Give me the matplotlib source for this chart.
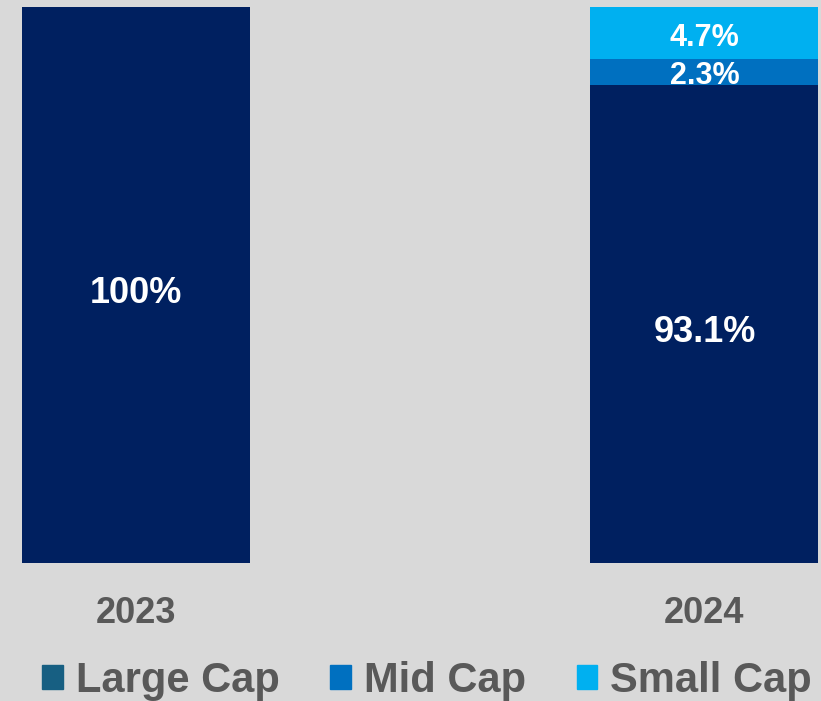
import matplotlib.pyplot as plt
from matplotlib.patches import Patch

plt.rcParams['font.family'] = ['Liberation Sans', 'DejaVu Sans']

years = ["2023", "2024"]
series = ["Large Cap", "Mid Cap", "Small Cap"]
# segment heights as drawn in the picture
large_cap = [100.0, 86.0]
mid_cap = [0.0, 4.7]
small_cap = [0.0, 9.3]
# labels as printed on the bars
large_labels = ["100%", "93.1%"]
mid_labels = ["", "2.3%"]
small_labels = ["", "4.7%"]

bar_colors = ["#002060", "#0070C0", "#00B0F0"]
legend_colors = ["#175F82", "#0070C0", "#00B0F0"]
bg = "#D9D9D9"
grey = "#595959"

fig = plt.figure(figsize=(8.21, 7.01), dpi=100, facecolor=bg)
ax = fig.add_axes([0, 0.1969, 1, 0.7932], facecolor=bg)

x = list(range(len(years)))
w = 0.401
bottom2 = large_cap
bottom3 = [a + b for a, b in zip(large_cap, mid_cap)]
ax.bar(x, large_cap, w, color=bar_colors[0])
ax.bar(x, mid_cap, w, bottom=bottom2, color=bar_colors[1])
ax.bar(x, small_cap, w, bottom=bottom3, color=bar_colors[2])


def put_labels(vals, bottoms, labels, size, dy):
    for xi, v, b, lab in zip(x, vals, bottoms, labels):
        if lab:
            ax.annotate(lab, (xi, b + v / 2), xytext=(0, dy), textcoords='offset points',
                        ha='center', va='center', color='white',
                        fontsize=size, fontweight='bold')


put_labels(large_cap, [0, 0], large_labels, 26, -6)
put_labels(mid_cap, bottom2, mid_labels, 22, -3)
put_labels(small_cap, bottom3, small_labels, 22, -4)

ax.set_xlim(-0.239, 1.205)
ax.set_ylim(0, 100)
for s in ax.spines.values():
    s.set_visible(False)
ax.set_yticks([])
ax.set_xticks(x)
ax.set_xticklabels(years, fontsize=26, fontweight='bold', color=grey)
ax.tick_params(axis='x', length=0, pad=24)

handles = [Patch(color=c) for c in legend_colors]
fig.legend(handles, series, loc='center', bbox_to_anchor=(427 / 821, 20 / 701),
           ncol=3, frameon=False, handlelength=0.5, handleheight=0.5,
           handletextpad=0.3, columnspacing=1.22,
           prop={'size': 30, 'weight': 'bold'}, labelcolor=grey)

fig.savefig("out.png", dpi=100, facecolor=bg)
